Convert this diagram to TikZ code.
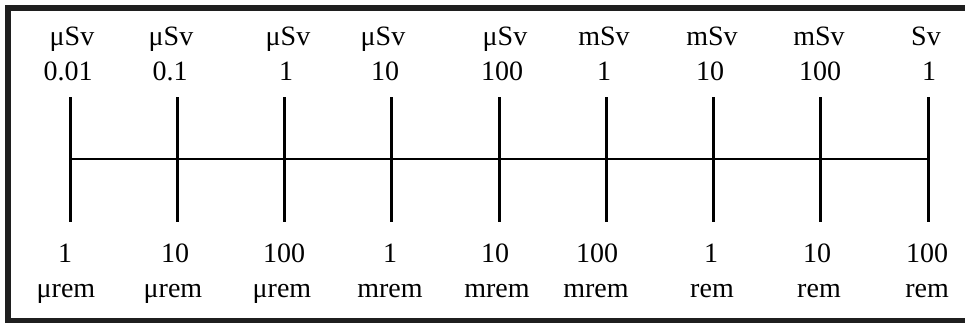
\documentclass[tikz,border=0pt]{standalone}
\usepackage{fontspec}
\setmainfont{Liberation Serif}
\begin{document}
\begin{tikzpicture}[x=1pt,y=-1pt,
  lbl/.style={font=\fontsize{28}{34}\selectfont, anchor=base, inner sep=0pt},
  tickline/.style={line width=3pt},
  axisline/.style={line width=2.6pt},
  frameline/.style={line width=6pt, draw=black!88}]
\useasboundingbox (0,0) rectangle (965,322);
\clip (0,0) rectangle (965,322);
\draw[frameline] (8,8) rectangle (990,321);
% ticks
\foreach \i in {0,...,8}{
  \coordinate (t\i) at ({70+107.25*\i},97);
  \coordinate (m\i) at ({70+107.25*\i},159);
  \coordinate (b\i) at ({70+107.25*\i},222);
  \draw[tickline] (t\i) -- (b\i);
}
\draw[axisline] (m0) -- (m8);
% top labels
\foreach \x/\t [count=\k] in {72/μSv,171/μSv,288/μSv,383/μSv,505/μSv,604/mSv,712/mSv,819/mSv,926/Sv}
  \node[lbl] (su\k) at (\x,45) {\t};
\foreach \x/\t [count=\k] in {68/0.01,170/0.1,286/1,385/10,502/100,604/1,710/10,820/100,929/1}
  \node[lbl] (sn\k) at (\x,80) {\t};
% bottom labels
\foreach \x/\t [count=\k] in {65/1,175/10,284/100,390/1,495/10,597/100,711/1,817/10,927/100}
  \node[lbl] (rn\k) at (\x,262) {\t};
\foreach \x/\t [count=\k] in {66/μrem,173/μrem,282/μrem,390/mrem,497/mrem,596/mrem,712/rem,819/rem,927/rem}
  \node[lbl] (ru\k) at (\x,297) {\t};
\end{tikzpicture}
\end{document}
